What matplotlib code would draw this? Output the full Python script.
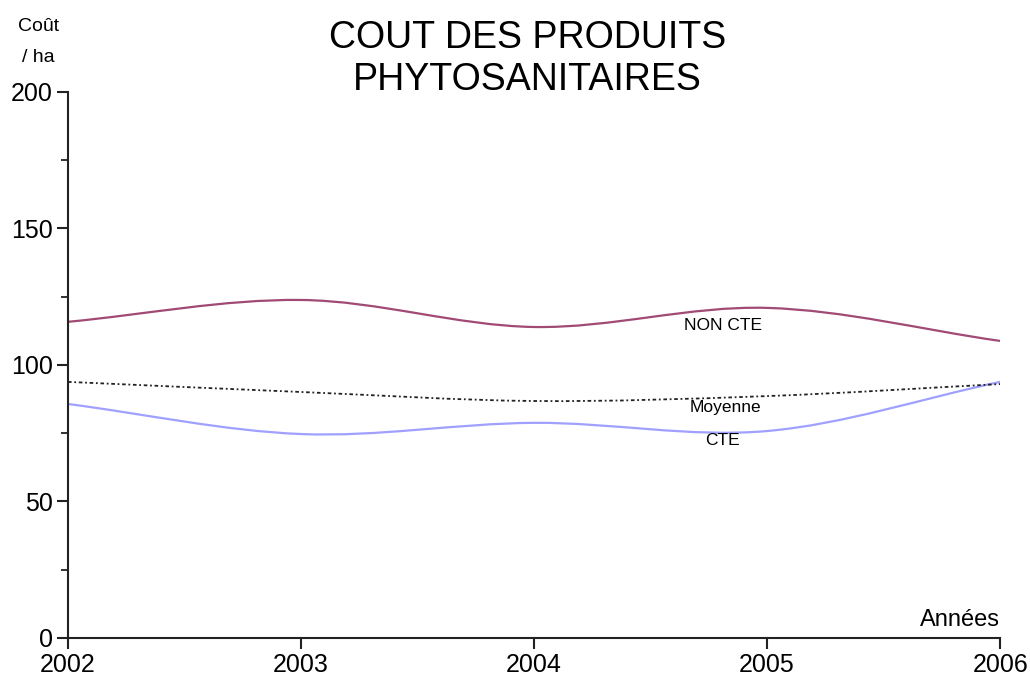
import matplotlib
matplotlib.use("Agg")
import matplotlib.pyplot as plt
from matplotlib.path import Path
from matplotlib.patches import PathPatch
from matplotlib.ticker import MultipleLocator
import numpy as np

plt.rcParams['font.family'] = ['Liberation Sans', 'DejaVu Sans']

years = [2002, 2003, 2004, 2005, 2006]
non_cte = [115.8, 123.8, 113.9, 120.9, 108.8]
cte = [85.7, 74.7, 78.8, 75.8, 93.8]
moyenne = [93.8, 90.1, 86.8, 88.6, 93.0]

title = "COUT DES PRODUITS\nPHYTOSANITAIRES"
ylabel = "Coût\n/ ha"
xlabel = "Années"


def smooth_path(x, y):
    """Catmull-Rom curve through the data points as cubic Bezier segments."""
    x = np.asarray(x, float)
    y = np.asarray(y, float)
    px = np.concatenate([[2 * x[0] - x[1]], x, [2 * x[-1] - x[-2]]])
    py = np.concatenate([[2 * y[0] - y[1]], y, [2 * y[-1] - y[-2]]])
    verts = [(x[0], y[0])]
    codes = [Path.MOVETO]
    for i in range(1, len(px) - 2):
        c1 = (px[i] + (px[i + 1] - px[i - 1]) / 6, py[i] + (py[i + 1] - py[i - 1]) / 6)
        c2 = (px[i + 1] - (px[i + 2] - px[i]) / 6, py[i + 1] - (py[i + 2] - py[i]) / 6)
        verts += [c1, c2, (px[i + 1], py[i + 1])]
        codes += [Path.CURVE4] * 3
    return Path(verts, codes)


fig = plt.figure(figsize=(10.30, 6.86), dpi=100)
ax = fig.add_axes([0.066, 0.070, 0.905, 0.796])

ax.add_patch(PathPatch(smooth_path(years, non_cte), fill=False, edgecolor='#A04A74', lw=1.6))
ax.add_patch(PathPatch(smooth_path(years, cte), fill=False, edgecolor='#A0A0FF', lw=1.6))
ax.add_patch(PathPatch(smooth_path(years, moyenne), fill=False, edgecolor='#222222', lw=1.3,
                       linestyle=(0, (2, 1.5, 1, 1.5))))
ax.plot(years, non_cte, alpha=0)

ax.set_xlim(2002, 2006)
ax.set_ylim(0, 200)
ax.set_xticks(years)
ax.yaxis.set_major_locator(MultipleLocator(50))
ax.yaxis.set_minor_locator(MultipleLocator(25))

for s in ['top', 'right']:
    ax.spines[s].set_visible(False)
for s in ['left', 'bottom']:
    ax.spines[s].set_linewidth(1.5)
    ax.spines[s].set_color('#222222')

ax.tick_params(axis='both', which='major', direction='out', length=8, width=1.5,
               labelsize=18, pad=3, color='#222222')
ax.tick_params(axis='y', which='minor', direction='out', length=5, width=1.3, color='#222222')

ax.text(2004.81, 114.5, "NON CTE", fontsize=12.5, ha='center', va='center')
ax.text(2004.82, 84.5, "Moyenne", fontsize=12.5, ha='center', va='center')
ax.text(2004.81, 72.5, "CTE", fontsize=12.5, ha='center', va='center')
ax.text(2006, 2.5, xlabel, fontsize=17, ha='right', va='bottom')

fig.text(0.512, 0.914, title, fontsize=27, ha='center', va='center', linespacing=1.18)
fig.text(0.037, 0.939, ylabel, fontsize=14, ha='center', va='center', linespacing=2.1)

fig.savefig("out.png", dpi=100)
